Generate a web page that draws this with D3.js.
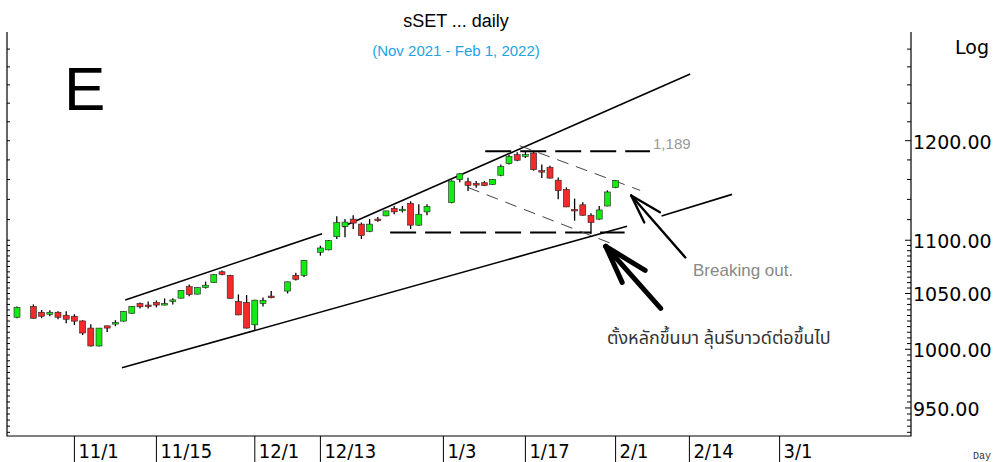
<!DOCTYPE html>
<html>
<head>
<meta charset="utf-8">
<script src="https://cdn.jsdelivr.net/npm/d3@7"></script>
<style>
  body { margin: 0; background: #fff; }
  svg { display: block; }
</style>
</head>
<body>
<div id="chart"></div>
<script>
const width = 998, height = 462;
const plot = {left: 7, right: 911, top: 32, bottom: 436};

// daily candles (trading days only)
const dates = ["2021-10-21","2021-10-25","2021-10-26","2021-10-27","2021-10-28","2021-10-29",
  "2021-11-01","2021-11-02","2021-11-03","2021-11-04","2021-11-05","2021-11-08","2021-11-09","2021-11-10",
  "2021-11-11","2021-11-12","2021-11-15","2021-11-16","2021-11-17","2021-11-18","2021-11-19","2021-11-22",
  "2021-11-23","2021-11-24","2021-11-25","2021-11-26","2021-11-29","2021-11-30","2021-12-01","2021-12-02",
  "2021-12-03","2021-12-07","2021-12-08","2021-12-09","2021-12-13","2021-12-14","2021-12-15","2021-12-16",
  "2021-12-17","2021-12-20","2021-12-21","2021-12-22","2021-12-23","2021-12-24","2021-12-27","2021-12-28",
  "2021-12-29","2021-12-30","2022-01-04","2022-01-05","2022-01-06","2022-01-07","2022-01-10","2022-01-11",
  "2022-01-12","2022-01-13","2022-01-14","2022-01-17","2022-01-18","2022-01-19","2022-01-20","2022-01-21",
  "2022-01-24","2022-01-25","2022-01-26","2022-01-27","2022-01-28","2022-01-31","2022-02-01"];
const open  = [1028.4,1038.2,1032.9,1031.1,1032.9,1030.2,1029.3,1025.1,1018.7,1002.9,1020.7,1023.2,1024.9,1032.0,
  1040.9,1039.4,1041.8,1039.4,1042.7,1045.7,1056.3,1049.4,1055.4,1060.0,1070.1,1066.8,1042.7,1041.8,1021.6,1040.9,
  1047.6,1052.2,1066.8,1066.8,1088.5,1090.8,1103.4,1113.4,1120.5,1115.6,1108.4,1120.5,1123.7,1131.1,1129.5,1136.1,
  1114.6,1127.6,1136.8,1160.0,1157.7,1156.0,1156.7,1155.0,1164.3,1176.2,1185.4,1183.6,1187.2,1169.0,1172.5,1159.3,
  1150.0,1130.0,1134.6,1124.3,1120.5,1133.4,1151.7];
const high  = [1038.2,1040.0,1034.9,1034.6,1033.7,1033.7,1031.1,1025.7,1022.2,1018.7,1020.7,1025.7,1034.1,1038.6,
  1041.8,1042.7,1043.6,1045.5,1045.5,1053.2,1058.2,1055.8,1061.0,1067.9,1071.3,1067.4,1049.1,1048.5,1044.3,1046.4,
  1052.2,1061.0,1069.2,1081.0,1094.8,1100.2,1123.4,1120.5,1124.3,1117.2,1120.5,1122.6,1128.8,1133.4,1133.4,1138.1,
  1135.1,1135.1,1159.1,1166.7,1161.7,1158.4,1158.4,1160.5,1175.2,1185.4,1188.0,1188.5,1189.0,1175.2,1174.1,1162.0,
  1152.0,1140.8,1137.1,1126.3,1133.4,1149.0,1159.4];
const low   = [1027.5,1027.0,1027.5,1029.3,1026.6,1023.1,1021.4,1012.5,1002.5,1002.5,1015.2,1020.4,1024.5,1031.6,
  1036.4,1036.4,1037.3,1039.1,1040.0,1045.3,1047.5,1049.1,1054.5,1059.6,1066.8,1045.1,1030.2,1018.3,1016.1,1038.2,
  1045.5,1050.0,1062.0,1065.3,1085.3,1090.3,1101.2,1102.8,1110.8,1101.2,1107.8,1117.9,1123.2,1125.3,1127.0,1110.8,
  1114.0,1124.3,1136.1,1157.3,1148.3,1151.7,1153.3,1154.5,1163.3,1175.2,1178.7,1181.9,1169.0,1161.4,1161.0,1140.1,
  1132.3,1118.9,1123.7,1106.0,1119.8,1133.1,1151.2];
const close = [1037.3,1027.5,1029.3,1032.9,1028.4,1026.6,1024.9,1014.3,1002.9,1018.7,1018.7,1023.6,1033.7,1038.2,
  1037.8,1038.5,1039.4,1040.9,1044.1,1052.8,1049.1,1055.4,1057.6,1067.4,1067.7,1045.5,1030.5,1018.7,1043.9,1043.6,
  1046.1,1060.7,1063.1,1080.8,1092.6,1099.6,1117.0,1117.6,1116.6,1104.6,1115.6,1119.2,1128.6,1127.6,1130.2,1114.6,
  1125.3,1132.9,1158.4,1165.7,1154.0,1154.3,1154.0,1160.0,1173.2,1183.6,1179.7,1185.4,1170.0,1168.1,1161.4,1148.7,
  1132.5,1128.8,1124.3,1117.2,1129.5,1147.4,1158.9];

const tickDates  = ["2021-11-01","2021-11-15","2021-12-01","2021-12-13","2022-01-03","2022-01-17","2022-02-01","2022-02-14","2022-03-01"];
const tickLabels = ["11/1","11/15","12/1","12/13","1/3","1/17","2/1","2/14","3/1"];
const yLabels = [950, 1000, 1050, 1100, 1200];

// drawn annotations, in [slot, price]
const upperTrend = [[13.2, 1044], [37.2, 1106.2], [39.7, 1113.0], [82.1, 1272]];
const lowerTrend = [[12.8, 984], [74.4, 1113.6], [78.6, 1123.6], [87.2, 1145]];
const resistance = [[57.1, 1189], [77.2, 1189]];
const support = [[45.5, 1107.5], [74.1, 1107.5]];
const flagTop = [[61.3, 1194.8], [76.0, 1149.0]];
const flagBottom = [[55.0, 1151.9], [72.3, 1097.4]];
const arrowSmall = {tip: [74.9, 1143.8], tail: [81.5, 1083.6], barbs: [[76.5, 1117.2], [78.4, 1127.2]]};
const arrowBig = {tip: [71.8, 1094.1], tail: [78.5, 1036.4], barbs: [[76.6, 1071.4], [73.8, 1060.2]]};

const parse = d3.timeParse("%Y-%m-%d");
const start = parse(dates[0]);
// holidays keep their empty slot, weekends do not
function slot(s) {
  return d3.timeDay.range(start, parse(s)).filter(d => d.getDay() % 6 !== 0).length;
}

const candles = dates.map((d, i) => ({slot: slot(d), o: open[i], h: high[i], l: low[i], c: close[i]}));

const x = d3.scaleLinear().domain([0, 100]).range([17, 837]);
const y = d3.scaleLog().domain([927, 1319.6]).range([plot.bottom, plot.top]);

const svg = d3.select("#chart").append("svg")
  .attr("width", width).attr("height", height);

// titles
svg.append("text").attr("x", 456).attr("y", 27).attr("text-anchor", "middle")
  .attr("font-family", "Liberation Sans, Arial, sans-serif").attr("font-size", 18)
  .text("sSET ... daily");
svg.append("text").attr("x", 456).attr("y", 56).attr("text-anchor", "middle")
  .attr("font-family", "Liberation Sans, Arial, sans-serif").attr("font-size", 15).attr("fill", "#22a3e6")
  .text("(Nov 2021 - Feb 1, 2022)");
svg.append("text").attr("x", 64).attr("y", 110)
  .attr("font-family", "Liberation Sans, Arial, sans-serif").attr("font-size", 62)
  .text("E");
svg.append("text").attr("x", 955).attr("y", 54)
  .attr("font-family", "DejaVu Sans, sans-serif").attr("font-size", 19)
  .text("Log");
svg.append("text").attr("x", 973).attr("y", 459)
  .attr("font-family", "Liberation Mono, monospace").attr("font-size", 10).attr("fill", "#333")
  .text("Day");

// frame
const frame = svg.append("g").attr("stroke", "#000").attr("stroke-width", 1.2).attr("fill", "none");
frame.append("path").attr("d", `M${plot.left},${plot.top}V${plot.bottom}H${plot.right}V${plot.top}`);

// y ticks: every 5 below 1100, every 20 above
const minorTicks = d3.range(930, 1100, 5).concat(d3.range(1100, 1320, 20));
svg.append("g").selectAll("line").data(minorTicks).join("line")
  .attr("x1", plot.left).attr("x2", plot.left + 3)
  .attr("y1", d => y(d)).attr("y2", d => y(d))
  .attr("stroke", "#000");
svg.append("g").selectAll("line").data(minorTicks).join("line")
  .attr("x1", d => yLabels.includes(d) ? plot.right - 6 : plot.right - 4).attr("x2", plot.right)
  .attr("y1", d => y(d)).attr("y2", d => y(d))
  .attr("stroke", "#000");
svg.append("g").selectAll("text").data(yLabels).join("text")
  .attr("x", plot.right + 2).attr("y", d => y(d) + 8)
  .attr("font-family", "DejaVu Sans, sans-serif").attr("font-size", 19)
  .text(d => d3.format(".2f")(d));

// x ticks
const xt = svg.append("g");
xt.selectAll("line").data(tickDates).join("line")
  .attr("x1", d => x(slot(d))).attr("x2", d => x(slot(d)))
  .attr("y1", plot.bottom).attr("y2", height)
  .attr("stroke", "#000");
xt.selectAll("text").data(tickDates).join("text")
  .attr("x", d => x(slot(d)) + 4).attr("y", 458)
  .attr("font-family", "DejaVu Sans Condensed, DejaVu Sans, sans-serif").attr("font-size", 20)
  .text((d, i) => tickLabels[i]);

// trend lines
const line = d3.line().x(d => x(d[0])).y(d => y(d[1]));
function segments(pts) {
  return [[pts[0], pts[1]], [pts[2], pts[3]]];
}
svg.append("g").selectAll("path").data(segments(upperTrend).concat(segments(lowerTrend))).join("path")
  .attr("d", line).attr("stroke", "#000").attr("stroke-width", 1.6).attr("fill", "none");

svg.append("g").selectAll("path").data([resistance, support]).join("path")
  .attr("d", line).attr("stroke", "#000").attr("stroke-width", 2)
  .attr("stroke-dasharray", "26,9").attr("fill", "none");

svg.append("g").selectAll("path").data([flagTop, flagBottom]).join("path")
  .attr("d", line).attr("stroke", "#444").attr("stroke-width", 1)
  .attr("stroke-dasharray", "12,8").attr("fill", "none");

svg.append("text").attr("x", x(resistance[1][0]) + 3).attr("y", y(1189) - 2)
  .attr("font-family", "Liberation Sans, Arial, sans-serif").attr("font-size", 15).attr("fill", "#999")
  .text("1,189");

// candles
const cg = svg.append("g").selectAll("g").data(candles).join("g");
cg.append("line")
  .attr("x1", d => x(d.slot)).attr("x2", d => x(d.slot))
  .attr("y1", d => y(d.h)).attr("y2", d => y(d.l))
  .attr("stroke", "#000").attr("stroke-width", 1.3);
cg.append("rect")
  .attr("x", d => x(d.slot) - 3).attr("width", 6)
  .attr("y", d => y(Math.max(d.o, d.c)))
  .attr("height", d => Math.max(1.5, y(Math.min(d.o, d.c)) - y(Math.max(d.o, d.c))))
  .attr("fill", d => d.c >= d.o ? "#14ea14" : "#f22a2a")
  .attr("stroke", "#222").attr("stroke-width", 0.6);

// arrows
function arrow(a, w) {
  const g = svg.append("g").attr("stroke", "#000").attr("stroke-width", w).attr("stroke-linecap", "round");
  g.selectAll("path").data([[a.tip, a.tail], [a.tip, a.barbs[0]], [a.tip, a.barbs[1]]]).join("path")
    .attr("d", line);
}
arrow(arrowSmall, 2.4);
arrow(arrowBig, 5);

svg.append("text").attr("x", 693).attr("y", 276)
  .attr("font-family", "Liberation Sans, Arial, sans-serif").attr("font-size", 17).attr("fill", "#888")
  .text("Breaking out.");
svg.append("text").attr("x", 607).attr("y", 344)
  .attr("font-family", "Noto Sans Thai, Noto Sans, DejaVu Sans, sans-serif").attr("font-size", 18).attr("fill", "#333")
  .text("ตั้งหลักขึ้นมา ลุ้นรีบาวด์ต่อขึ้นไป");
</script>
</body>
</html>
